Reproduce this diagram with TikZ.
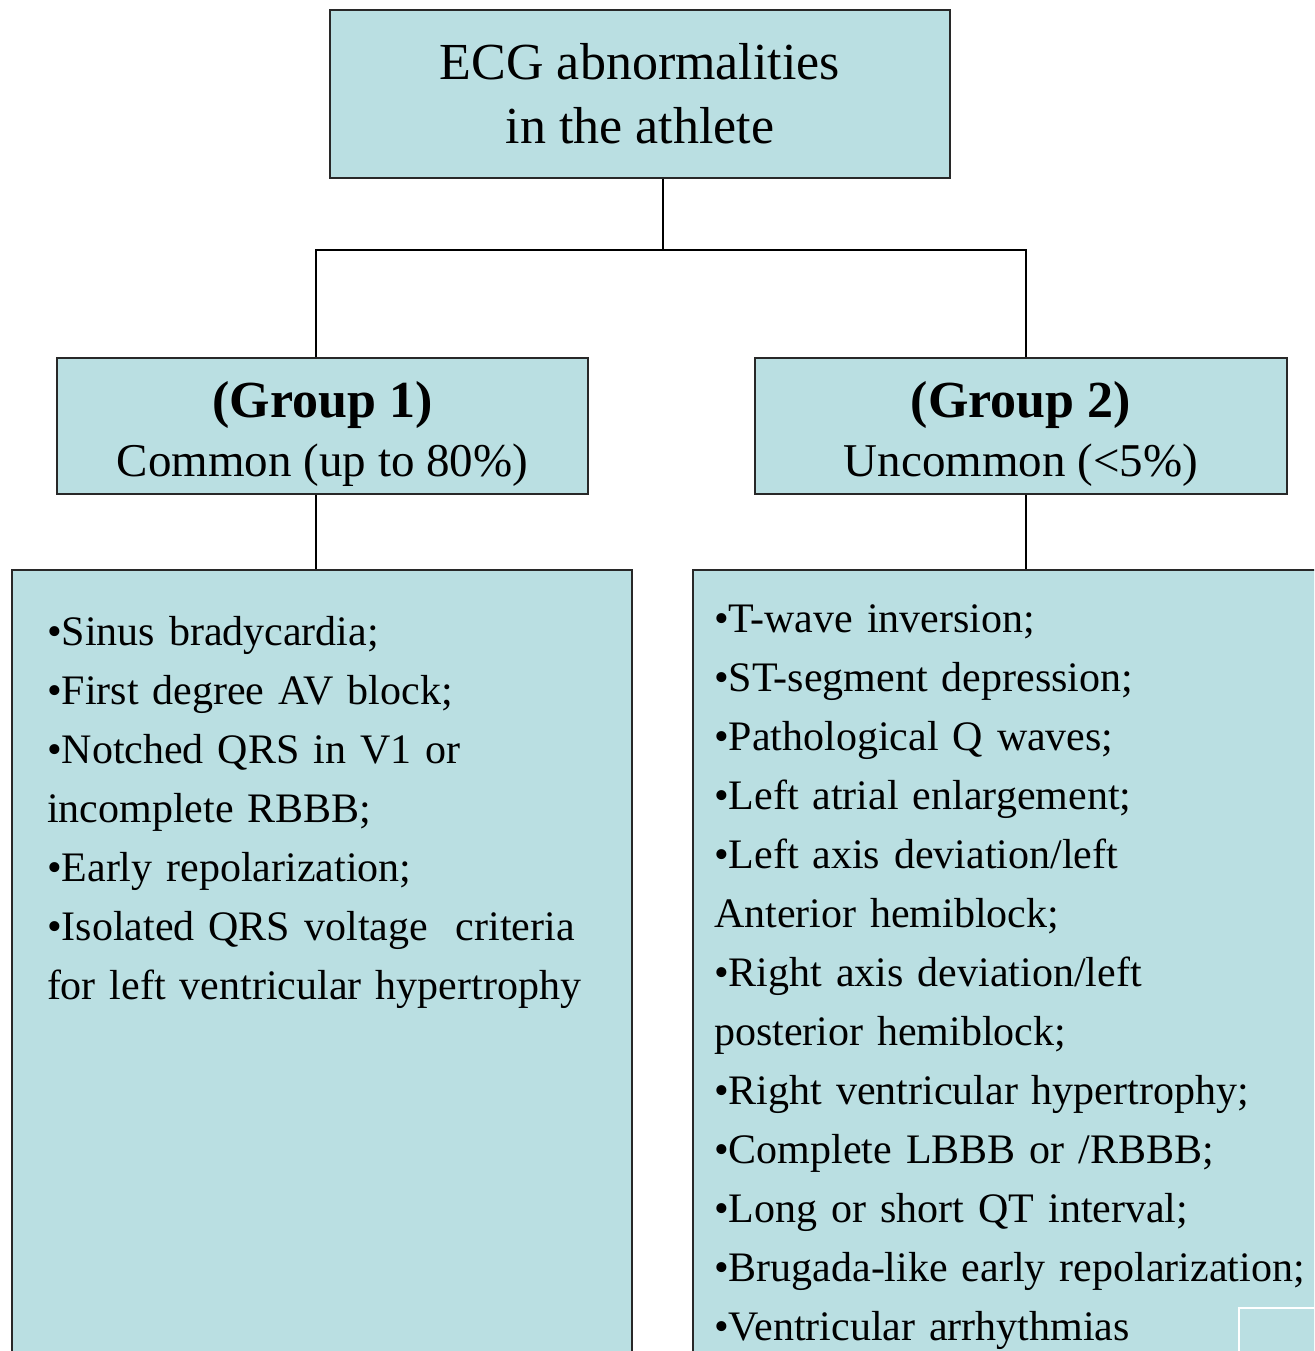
\documentclass[tikz,border=0pt]{standalone}
\usepackage{fontspec}
\setmainfont{Liberation Serif}
\usepackage{tikz}
\usetikzlibrary{positioning}
\definecolor{paleteal}{RGB}{186,223,226}
\definecolor{edgegray}{RGB}{40,40,40}
\tikzstyle{hd}=[%
      rectangle, draw=edgegray, line width=2pt, fill=paleteal,
      minimum width=620pt, minimum height=168pt, inner sep=0pt, align=center,
      font=\fontsize{52}{64}\selectfont
]
\tikzstyle{gr}=[%
      rectangle, draw=edgegray, line width=2pt, fill=paleteal,
      minimum width=531pt, minimum height=136pt, inner sep=0pt, align=center,
      font=\fontsize{47}{59}\selectfont
]
\tikzstyle{ls}=[%
      rectangle, draw=edgegray, line width=2pt, fill=paleteal, inner sep=0pt,
      minimum height=830pt
]
\tikzstyle{tx}=[%
      anchor=base west, inner sep=0pt, text width=620pt, align=left,
      font=\fontsize{42}{59}\selectfont
]

\begin{document}
\begin{tikzpicture}[x=1pt, y=-1pt, line width=2pt]
    \useasboundingbox (0,0) rectangle (1314,1351);
    \clip (0,0) rectangle (1314,1351);

    \node[hd]                        (ecg) at (640,94)          {ECG abnormalities\\in the athlete};
    \node[gr]                        (g1)  at (322.5,426)       {{\rule{0pt}{52pt}\fontsize{52}{59}\selectfont\bfseries (Group 1)}\\Common (up to 80\%)};
    \node[gr, minimum width=532pt]   (g2)  [right = 165pt of g1] {{\rule{0pt}{52pt}\fontsize{52}{59}\selectfont\bfseries (Group 2)}\\Uncommon (<5\%)};
    \node[ls, minimum width=620pt]   (l1)  at (322,985)         {};
    \node[ls, minimum width=640pt]   (l2)  at (1013,985)        {};

    \node[tx] (t1) at (46,645) {•Sinus bradycardia;\\
        •First degree AV block;\\
        •Notched QRS in V1 or\\
        incomplete RBBB;\\
        •Early repolarization;\\
        •Isolated QRS voltage\ \ criteria\\
        for left ventricular hypertrophy};
    \node[tx] (t2) at (713,632) {•T-wave inversion;\\
        •ST-segment depression;\\
        •Pathological Q waves;\\
        •Left atrial enlargement;\\
        •Left axis deviation/left\\
        Anterior hemiblock;\\
        •Right axis deviation/left\\
        posterior hemiblock;\\
        •Right ventricular hypertrophy;\\
        •Complete LBBB or /RBBB;\\
        •Long or short QT interval;\\
        •Brugada-like early repolarization;\\
        •Ventricular arrhythmias};

    % tree connectors
    \coordinate (split) at (663,250);
    \coordinate (j1)    at (316,250);
    \coordinate (j2)    at (1026,250);
    \draw (ecg.south -| split) -- (split);
    \draw (g1.north -| j1) |- (j2) -- (g2.north -| j2);
    \draw (g1.south -| j1) -- (l1.north -| j1);
    \draw (g2.south -| j2) -- (l2.north -| j2);

    \draw[white, line width=1.5pt] (1239,1360) |- (1320,1308);
\end{tikzpicture}
\end{document}
